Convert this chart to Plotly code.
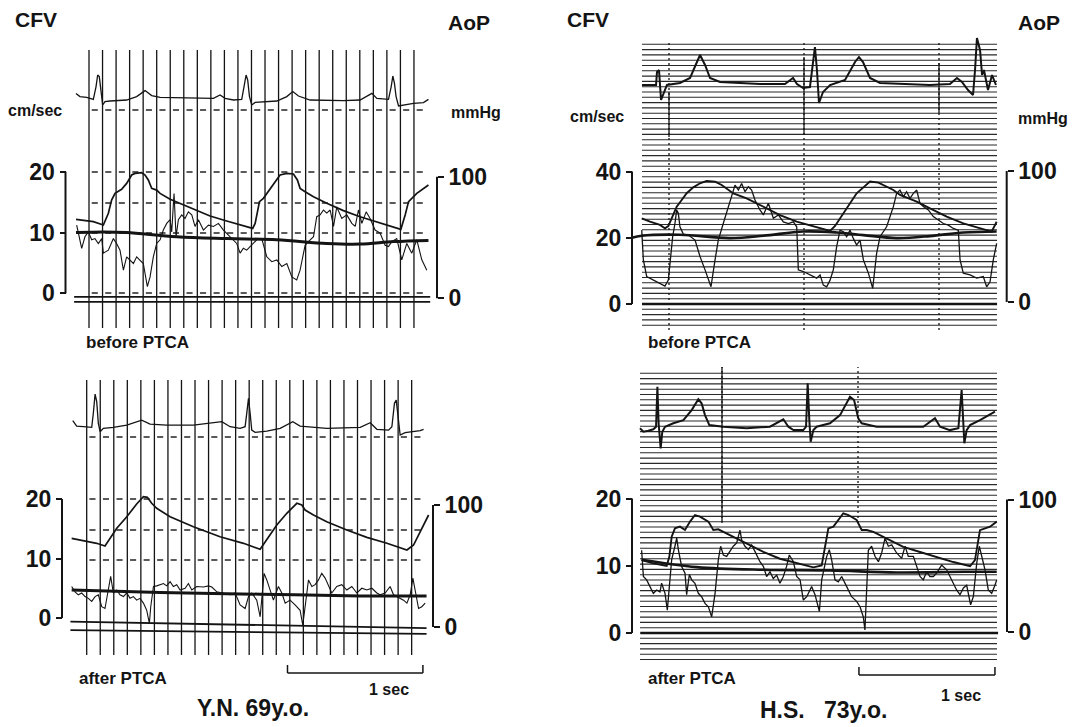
import plotly.graph_objects as go

W, H = 1075, 727
INK = '#141414'
FONT = 'Liberation Sans, Arial, Helvetica, sans-serif'

# ------------------------------------------------------------------ data
# Y.N. 69 y.o. -- before PTCA (time in s, CFV in cm/s, AoP in mmHg, ECG in mV)
TL_ECG_T = [-0.096,-0.067,-0.017,0.032,0.052,0.064,0.076,0.086,0.101,0.118,0.155,0.278,0.352,0.414,0.463,0.525,0.771,0.919,0.968,1.005,1.067,1.128,1.145,1.160,1.172,1.185,1.202,1.227,1.387,1.461,1.505,1.547,1.633,1.879,2.002,2.089,2.126,2.212,2.232,2.244,2.256,2.268,2.286,2.323,2.397,2.470,2.507]
TL_ECG_V = [0.33,0.17,0.13,0.03,0.67,1.25,1.17,0.5,-0.25,-0.08,-0.05,0.0,0.17,0.47,0.22,0.13,0.08,0.08,0.25,0.08,0.0,0.03,0.67,1.25,1.0,0.17,-0.25,-0.12,-0.05,0.17,0.42,0.2,0.0,-0.03,0.0,0.33,0.08,0.03,0.67,1.2,0.83,0.17,-0.3,-0.25,-0.17,-0.13,0.03]
TL_AOP_T = [-0.096,-0.030,0.032,0.106,0.143,0.167,0.192,0.241,0.278,0.315,0.340,0.389,0.414,0.438,0.463,0.500,0.525,0.599,0.771,0.894,1.017,1.209,1.227,1.259,1.288,1.325,1.362,1.411,1.461,1.510,1.539,1.559,1.596,1.658,1.756,1.879,2.002,2.126,2.212,2.303,2.335,2.360,2.421,2.507]
TL_AOP_V = [64.9,63.8,63.0,60.3,69.9,80.8,86.3,89.6,94.5,101.4,102.7,103.3,101.4,97.3,90.4,89.0,86.3,81.4,73.2,67.7,63.6,57.5,61.6,79.5,82.2,87.7,93.2,101.4,102.7,102.2,97.3,90.4,87.7,83.6,78.1,72.1,67.1,63.0,60.3,56.7,68.5,79.5,86.3,93.2]
TL_CFV_T = [-0.091,-0.054,-0.030,-0.005,0.020,0.044,0.069,0.094,0.106,0.143,0.180,0.204,0.229,0.241,0.254,0.278,0.303,0.328,0.352,0.377,0.401,0.431,0.451,0.475,0.500,0.525,0.549,0.574,0.599,0.611,0.628,0.643,0.660,0.685,0.709,0.734,0.759,0.783,0.808,0.845,0.882,0.919,0.956,0.993,1.042,1.067,1.091,1.116,1.140,1.165,1.202,1.239,1.276,1.313,1.350,1.387,1.424,1.461,1.498,1.534,1.559,1.596,1.621,1.658,1.682,1.707,1.732,1.756,1.781,1.806,1.830,1.867,1.904,1.941,1.966,1.990,2.015,2.047,2.076,2.113,2.150,2.187,2.212,2.236,2.273,2.310,2.347,2.384,2.421,2.458,2.495]
TL_CFV_V = [11.2,7.4,9.3,10.1,8.8,9.0,8.2,9.0,6.6,7.1,9.0,8.2,7.1,5.5,3.8,6.0,5.5,4.9,6.0,5.5,4.9,1.1,2.7,6.0,8.2,8.8,10.4,11.5,12.1,10.1,16.4,9.3,12.1,12.9,12.3,13.4,12.9,11.0,12.1,10.4,11.2,11.0,11.5,10.4,9.3,8.8,8.2,6.6,7.4,7.1,8.0,8.8,9.0,6.0,5.2,5.5,4.4,4.9,2.7,2.2,3.8,7.9,8.5,9.3,12.6,12.9,13.7,13.2,13.7,11.0,14.2,12.3,12.9,11.5,11.0,13.7,11.5,13.4,12.3,10.4,9.9,7.9,7.7,8.5,9.0,5.5,8.2,6.6,8.8,5.5,3.8]
TL_MEAN_T = [-0.096,0.106,0.278,0.648,1.017,1.387,1.756,2.002,2.249,2.507]
TL_MEAN_V = [10.0,10.1,10.0,9.3,9.0,8.8,8.2,8.1,8.5,8.7]
TL_ZERO_T = [-0.11,2.52]
TL_ZERO_CFV = [-0.6,-0.6]
TL_ZERO_AOP = [-3.0,-3.0]

# Y.N. 69 y.o. -- after PTCA
BL_ECG_T = [-0.103,-0.074,-0.025,0.037,0.049,0.062,0.074,0.086,0.099,0.123,0.197,0.296,0.406,0.468,0.591,0.788,0.998,1.059,1.133,1.170,1.182,1.195,1.207,1.219,1.244,1.330,1.429,1.522,1.576,1.773,2.020,2.094,2.143,2.229,2.254,2.273,2.286,2.298,2.315,2.352,2.414,2.463,2.488]
BL_ECG_V = [0.3,0.03,0.0,-0.03,0.67,1.63,1.25,0.17,-0.25,-0.08,-0.03,0.08,0.33,0.13,0.08,0.08,0.25,0.0,-0.08,0.0,0.67,1.42,0.67,-0.17,-0.28,-0.22,-0.08,0.25,0.03,-0.08,-0.03,0.2,-0.13,-0.17,0.0,1.17,1.33,0.67,-0.42,-0.3,-0.25,-0.2,-0.13]
BL_AOP_T = [-0.111,0.0,0.074,0.135,0.172,0.222,0.296,0.369,0.419,0.448,0.480,0.517,0.616,0.788,0.985,1.158,1.281,1.330,1.404,1.478,1.552,1.589,1.613,1.675,1.773,1.921,2.069,2.217,2.365,2.414,2.488,2.525]
BL_AOP_V = [72.7,69.9,68.6,66.4,72.7,80.9,90.4,100.8,106.8,106.3,101.4,97.3,90.4,82.2,74.0,68.6,63.7,71.3,83.6,93.2,101.4,100.0,95.9,91.8,86.3,79.5,73.5,68.6,63.1,67.2,83.6,91.8]
BL_CFV_T = [-0.111,-0.086,-0.062,-0.037,-0.012,0.012,0.037,0.062,0.086,0.111,0.135,0.160,0.177,0.197,0.222,0.246,0.271,0.296,0.320,0.345,0.369,0.394,0.419,0.443,0.463,0.473,0.493,0.517,0.542,0.567,0.591,0.616,0.640,0.665,0.690,0.727,0.751,0.776,0.813,0.862,0.899,0.924,0.961,1.010,1.059,1.096,1.133,1.170,1.195,1.219,1.256,1.281,1.293,1.310,1.330,1.355,1.379,1.416,1.441,1.466,1.502,1.539,1.576,1.596,1.626,1.638,1.663,1.687,1.712,1.736,1.761,1.786,1.810,1.847,1.884,1.921,1.958,1.995,2.032,2.069,2.106,2.143,2.167,2.204,2.241,2.266,2.340,2.365,2.389,2.409,2.426,2.451,2.475,2.500]
BL_CFV_V = [5.3,4.4,3.9,4.2,3.6,3.3,2.8,3.6,3.9,1.9,1.6,4.7,7.0,4.2,4.7,3.9,3.6,4.2,3.3,3.6,3.0,3.3,2.5,1.3,-0.9,1.9,5.3,5.4,5.6,5.8,5.4,6.1,5.3,5.6,4.7,5.0,5.8,4.7,5.3,5.2,5.4,5.2,4.4,4.2,3.9,4.2,2.2,1.6,3.6,4.2,3.0,0.2,2.8,7.5,6.4,4.7,3.0,5.3,4.2,2.5,3.0,2.2,1.3,-1.2,4.2,6.4,5.3,5.6,6.4,7.5,6.7,5.3,4.2,5.3,5.6,4.7,5.3,4.2,5.0,4.7,5.0,4.2,3.9,4.2,5.3,3.9,3.0,2.5,3.9,6.7,4.7,1.6,1.9,2.5]
BL_MEAN_T = [-0.111,0.542,1.281,2.020,2.510]
BL_MEAN_V = [4.7,4.3,4.0,3.7,3.7]
BL_ZERO_T = [-0.12,2.51]
BL_ZERO_CFV = [-0.6,-1.7]
BL_ZERO_AOP = [-2.5,-5.7]

# H.S. 73 y.o. -- before PTCA
TR_ECG_T = [-0.200,-0.141,-0.096,-0.089,-0.074,-0.059,-0.037,-0.015,0.081,0.156,0.207,0.230,0.267,0.304,0.378,0.674,0.859,0.896,0.919,0.948,0.993,1.044,1.067,1.081,1.096,1.111,1.141,1.193,1.304,1.378,1.407,1.437,1.489,1.563,1.933,2.081,2.133,2.170,2.215,2.252,2.267,2.281,2.304,2.319,2.333,2.363,2.393,2.422]
TR_ECG_V = [0,0,0,0.65,0.75,-0.75,-0.35,0,0.1,0.35,1.15,1.5,1.0,0.35,0.15,0.05,0.05,0.25,0.35,0.05,-0.15,-0.1,1.25,1.9,0.75,-0.9,-0.35,0,0.25,1.15,1.4,1.15,0.35,0.1,0,0.05,0.35,0.15,-0.25,-0.5,0.75,2.35,1.75,0.5,0.75,-0.25,0.5,0]
TR_AOP_T = [-0.202,-0.141,-0.067,-0.030,-0.005,0.020,0.057,0.094,0.131,0.180,0.230,0.279,0.341,0.390,0.427,0.477,0.575,0.699,0.822,0.946,1.069,1.193,1.230,1.291,1.341,1.390,1.440,1.489,1.551,1.612,1.662,1.711,1.835,1.933,2.057,2.180,2.304,2.390,2.427]
TR_AOP_V = [63.9,61.3,58.8,56.2,58.0,63.9,72.8,77.9,83.0,87.5,90.6,92.4,91.9,89.3,86.8,82.9,79.1,72.8,66.4,61.3,58.0,54.2,58.0,67.2,75.3,83.0,87.5,91.9,91.1,88.0,85.5,81.7,76.6,71.5,65.1,60.0,56.2,53.7,61.3]
TR_CFV_T = [-0.202,-0.190,-0.165,-0.116,-0.067,-0.030,-0.005,0.012,0.027,0.044,0.057,0.069,0.081,0.106,0.143,0.193,0.230,0.267,0.291,0.311,0.341,0.365,0.402,0.452,0.489,0.514,0.538,0.563,0.588,0.612,0.637,0.674,0.699,0.736,0.773,0.810,0.847,0.884,0.921,0.946,0.958,0.995,1.044,1.094,1.119,1.143,1.168,1.193,1.217,1.242,1.267,1.291,1.316,1.341,1.365,1.390,1.415,1.440,1.477,1.509,1.538,1.563,1.612,1.662,1.686,1.711,1.736,1.760,1.785,1.810,1.835,1.859,1.884,1.921,1.958,1.995,2.032,2.069,2.106,2.143,2.156,2.180,2.230,2.279,2.328,2.353,2.378,2.402,2.427]
TR_CFV_V = [22.3,13.3,8.3,7.2,6.2,5.4,7.2,13.3,20.3,24.3,28.4,27.4,23.3,21.1,20.8,19.3,14.3,10.3,7.8,5.2,13.3,19.3,24.3,31.4,35.9,34.4,36.4,33.9,35.4,34.4,31.4,28.4,26.9,30.4,25.9,26.9,24.8,24.3,24.8,23.3,10.3,9.8,8.8,7.8,8.8,5.7,5.2,7.2,10.3,17.3,22.3,21.8,20.3,22.3,19.8,17.8,19.3,13.3,9.3,4.7,15.3,20.3,23.3,29.4,33.4,34.4,32.4,33.9,31.9,33.4,34.4,30.4,29.4,28.4,26.4,25.4,24.3,23.8,22.8,22.3,13.3,9.3,8.8,7.8,8.3,5.2,6.7,13.3,18.3]
TR_MEAN_T = [-0.274,-0.202,0.081,0.452,0.699,0.995,1.242,1.440,1.686,1.933,2.180,2.427]
TR_MEAN_V = [20.0,20.6,20.9,19.9,20.6,21.9,21.6,20.8,19.9,20.5,21.6,21.9]
TR_ZERO_T = [-0.2,2.43]
TR_ZERO_CFV = [0.0,0.0]

# H.S. 73 y.o. -- after PTCA
BR_ECG_T = [-0.603,-0.578,-0.542,-0.505,-0.485,-0.475,-0.466,-0.451,-0.439,-0.419,-0.358,-0.284,-0.223,-0.174,-0.150,-0.125,-0.093,0.010,0.181,0.353,0.451,0.488,0.525,0.598,0.618,0.630,0.642,0.652,0.672,0.696,0.794,0.868,0.941,0.971,1.002,1.027,1.137,1.284,1.480,1.566,1.603,1.676,1.738,1.762,1.775,1.782,1.799,1.824,1.897,1.958,2.007]
BR_ECG_V = [-0.08,-0.25,-0.2,-0.13,0.0,2.0,0.17,-1.08,-0.25,0.0,0.17,0.33,0.83,1.37,1.17,0.58,0.08,0.0,-0.08,0.0,0.37,0.0,-0.17,-0.17,0.0,2.17,0.33,-0.75,-0.17,0.0,0.17,0.58,1.5,1.33,0.42,0.17,0.0,0.0,0.0,0.42,0.0,-0.17,-0.08,1.83,0.33,-0.83,-0.17,0.08,0.33,0.58,0.75]
BR_AOP_T = [-0.591,-0.505,-0.407,-0.387,-0.370,-0.346,-0.309,-0.272,-0.235,-0.199,-0.162,-0.100,-0.064,-0.027,0.010,0.059,0.181,0.304,0.426,0.549,0.672,0.733,0.757,0.782,0.819,0.855,0.892,0.929,0.990,1.027,1.064,1.113,1.211,1.333,1.456,1.578,1.701,1.824,1.860,1.897,1.934,1.971,2.020]
BR_AOP_V = [54.3,51.8,49.8,56.9,71.9,78.2,79.5,77.0,83.3,88.3,87.0,83.3,77.0,77.5,75.5,73.0,66.7,60.4,55.3,51.8,48.8,50.3,64.4,78.2,79.5,84.5,89.6,88.3,84.5,77.0,77.0,75.5,70.4,64.2,60.4,56.6,52.8,49.6,54.3,76.9,78.2,79.5,83.3]
BR_CFV_T = [-0.591,-0.578,-0.554,-0.529,-0.505,-0.480,-0.456,-0.444,-0.419,-0.402,-0.387,-0.370,-0.346,-0.333,-0.321,-0.297,-0.272,-0.260,-0.240,-0.223,-0.199,-0.174,-0.150,-0.125,-0.100,-0.076,-0.051,-0.027,-0.010,0.010,0.034,0.059,0.083,0.108,0.132,0.145,0.169,0.194,0.218,0.243,0.279,0.304,0.328,0.353,0.377,0.402,0.426,0.451,0.475,0.495,0.525,0.549,0.574,0.598,0.623,0.659,0.684,0.716,0.733,0.770,0.789,0.806,0.831,0.855,0.880,0.917,0.953,0.990,1.015,1.039,1.051,1.076,1.100,1.125,1.150,1.174,1.199,1.223,1.248,1.284,1.321,1.346,1.370,1.407,1.431,1.456,1.480,1.505,1.529,1.554,1.578,1.615,1.652,1.689,1.725,1.750,1.775,1.799,1.828,1.848,1.873,1.892,1.909,1.934,1.958,1.983,2.007,2.020]
BR_CFV_V = [12.3,8.4,7.9,6.9,5.9,6.4,6.1,7.4,5.9,3.4,6.9,10.9,12.9,14.1,12.4,9.9,8.9,5.7,8.7,7.9,7.4,5.9,5.4,4.4,3.9,2.4,5.9,10.9,12.9,11.6,11.4,12.1,12.9,13.4,15.3,13.8,12.9,12.4,13.1,12.1,10.6,9.9,8.4,9.1,8.1,8.6,7.4,8.4,9.9,11.6,10.6,8.4,7.9,4.9,5.4,6.9,5.7,3.2,7.9,11.4,12.4,10.9,7.9,7.6,8.4,6.9,5.4,4.7,3.9,2.4,0.45,12.3,12.9,11.4,10.6,11.9,14.1,12.9,13.1,11.9,11.1,12.9,11.4,11.4,9.9,8.4,7.9,9.1,8.4,8.4,8.9,10.1,9.4,7.9,6.4,5.7,6.7,7.1,4.2,5.4,10.4,12.9,11.6,9.4,6.4,5.9,7.1,7.9]
BR_MEAN_T = [-0.591,-0.186,0.304,0.794,1.284,1.775,2.020]
BR_MEAN_V = [10.9,9.8,9.4,9.3,9.0,9.1,9.1]
BR_ZERO_T = [-0.6,2.03]
BR_ZERO_CFV = [0.0,0.0]

CFV_TICKS_LEFT = [0, 10, 20]
CFV_TICKS_TR = [0, 20, 40]
AOP_TICKS = [0, 100]
TIMING_STEP = 0.1          # s between timing lines (left records)
TIMING_COUNT = 25
SCALE_LEN = 1.0            # s
BL_SCALE_START = 1.483
BR_SCALE_START = 1.007
TR_MARKS = [0.0, 1.0, 2.0]
BR_MARKS = [0.0, 1.0]

# ------------------------------------------------------------------ geometry (pixels)
PANELS = [
    dict(name='TL', x0=89.0, xs=135.4, xl=58, xr=445, yt=36, yb=336,
         cfv0=293.3, cfvk=6.08, aop0=298.3, aopk=1.216, ecg0=100.0, ecgk=20.0,
         lax=65.5, rax=437.0, cticks=CFV_TICKS_LEFT, ctop=20,
         ecg=(TL_ECG_T, TL_ECG_V), aop=(TL_AOP_T, TL_AOP_V), cfv=(TL_CFV_T, TL_CFV_V),
         mean=(TL_MEAN_T, TL_MEAN_V), zc=(TL_ZERO_T, TL_ZERO_CFV), za=(TL_ZERO_T, TL_ZERO_AOP)),
    dict(name='BL', x0=86.7, xs=135.4, xl=58, xr=445, yt=368, yb=662,
         cfv0=618.0, cfvk=5.95, aop0=627.0, aopk=1.22, ecg0=426.7, ecgk=20.0,
         lax=62.0, rax=433.0, cticks=CFV_TICKS_LEFT, ctop=20,
         ecg=(BL_ECG_T, BL_ECG_V), aop=(BL_AOP_T, BL_AOP_V), cfv=(BL_CFV_T, BL_CFV_V),
         mean=(BL_MEAN_T, BL_MEAN_V), zc=(BL_ZERO_T, BL_ZERO_CFV), za=(BL_ZERO_T, BL_ZERO_AOP)),
    dict(name='TR', x0=669.0, xs=135.0, xl=600, xr=1045, yt=30, yb=336,
         cfv0=304.0, cfvk=3.3125, aop0=302.0, aopk=1.31, ecg0=85.0, ecgk=20.0,
         lax=632.0, rax=1006.7, cticks=CFV_TICKS_TR, ctop=40,
         ecg=(TR_ECG_T, TR_ECG_V), aop=(TR_AOP_T, TR_AOP_V), cfv=(TR_CFV_T, TR_CFV_V),
         mean=(TR_MEAN_T, TR_MEAN_V), zc=(TR_ZERO_T, TR_ZERO_CFV), za=None),
    dict(name='BR', x0=722.0, xs=136.0, xl=600, xr=1045, yt=362, yb=666,
         cfv0=633.0, cfvk=6.725, aop0=632.0, aopk=1.325, ecg0=426.7, ecgk=20.0,
         lax=632.0, rax=1007.0, cticks=CFV_TICKS_LEFT, ctop=20,
         ecg=(BR_ECG_T, BR_ECG_V), aop=(BR_AOP_T, BR_AOP_V), cfv=(BR_CFV_T, BR_CFV_V),
         mean=(BR_MEAN_T, BR_MEAN_V), zc=(BR_ZERO_T, BR_ZERO_CFV), za=None),
]


def aid(letter, n):
    return letter if n == 1 else f'{letter}{n}'


def akey(letter, n):
    return f'{letter}axis' if n == 1 else f'{letter}axis{n}'


def px(x):
    return x / W


def py(y):
    return 1 - y / H


fig = go.Figure()
layout = dict(width=W, height=H, margin=dict(l=0, r=0, t=0, b=0),
              paper_bgcolor='white', plot_bgcolor='rgba(0,0,0,0)', showlegend=False)
shapes = []
annotations = []
tickfont = dict(family=FONT, size=23, color=INK, weight='bold')

for i, P in enumerate(PANELS):
    xn = i + 1
    yc, ya, ye = 3 * i + 1, 3 * i + 2, 3 * i + 3
    dom_y = [py(P['yb']), py(P['yt'])]
    layout[akey('x', xn)] = dict(domain=[px(P['xl']), px(P['xr'])],
                                 range=[(P['xl'] - P['x0']) / P['xs'], (P['xr'] - P['x0']) / P['xs']],
                                 visible=False, anchor=aid('y', yc))
    layout[akey('y', yc)] = dict(domain=dom_y,
                                 range=[(P['cfv0'] - P['yb']) / P['cfvk'], (P['cfv0'] - P['yt']) / P['cfvk']],
                                 anchor='free', position=px(P['lax']), side='left',
                                 tickvals=P['cticks'], ticks='outside', ticklen=6, tickwidth=2,
                                 tickcolor=INK, showgrid=False, zeroline=False, showline=False,
                                 tickfont=tickfont)
    layout[akey('y', ya)] = dict(overlaying=aid('y', yc),
                                 range=[(P['aop0'] - P['yb']) / P['aopk'], (P['aop0'] - P['yt']) / P['aopk']],
                                 anchor='free', position=px(P['rax']), side='right',
                                 tickvals=AOP_TICKS, ticks='outside', ticklen=6, tickwidth=2,
                                 tickcolor=INK, showgrid=False, zeroline=False, showline=False,
                                 tickfont=tickfont)
    layout[akey('y', ye)] = dict(overlaying=aid('y', yc),
                                 range=[(P['ecg0'] - P['yb']) / P['ecgk'], (P['ecg0'] - P['yt']) / P['ecgk']],
                                 visible=False)

    right = P['name'] in ('TR', 'BR')
    xr_id = aid('x', xn)

    # recorder paper: horizontal lines (right records) / timing lines (left records)
    if right:
        gx0, gx1 = (642, 997) if P['name'] == 'TR' else (640, 997)
        ytop_lim = 42 if P['name'] == 'TR' else 372
        n = -4 if P['name'] == 'TR' else -5
        while True:
            yy = P['cfv0'] - n * 5.3
            if yy < ytop_lim:
                break
            shapes.append(dict(type='line', xref='paper', yref='paper', x0=px(gx0), x1=px(gx1),
                               y0=py(yy), y1=py(yy), line=dict(color='#2a2a2a', width=1.1), layer='below'))
            n += 1
        marks = TR_MARKS if P['name'] == 'TR' else BR_MARKS
        ylo, yhi = (42, 330) if P['name'] == 'TR' else (367, 523)
        for m in marks:
            shapes.append(dict(type='line', xref=xr_id, yref='paper', x0=m, x1=m,
                               y0=py(yhi), y1=py(ylo), line=dict(color=INK, width=1.3, dash='2px,3px')))
        solids = ([(0.0, 92, 137), (1.0, 57, 135), (2.0, 63, 113)] if P['name'] == 'TR'
                  else [(0.0, 367, 522)])
        for m, a, b in solids:
            shapes.append(dict(type='line', xref=xr_id, yref='paper', x0=m, x1=m,
                               y0=py(b), y1=py(a), line=dict(color=INK, width=1.3)))
    else:
        ylo, yhi = (50, 328) if P['name'] == 'TL' else (380, 655)
        for k in range(TIMING_COUNT):
            t = k * TIMING_STEP
            shapes.append(dict(type='line', xref=xr_id, yref='paper', x0=t, x1=t,
                               y0=py(yhi), y1=py(ylo), line=dict(color=INK, width=1.3), layer='below'))
        rows = [110, 172, 203, 233, 293] if P['name'] == 'TL' else [437, 499, 530, 560]
        for r in rows:
            for k in range(TIMING_COUNT):
                t = k * TIMING_STEP
                shapes.append(dict(type='line', xref=xr_id, yref='paper', x0=t + 0.02, x1=t + 0.065,
                                   y0=py(r), y1=py(r), line=dict(color=INK, width=1.4), layer='below'))

    # brackets
    shapes.append(dict(type='line', xref='paper', yref=aid('y', yc), x0=px(P['lax']), x1=px(P['lax']),
                       y0=0, y1=P['ctop'], line=dict(color=INK, width=2)))
    shapes.append(dict(type='line', xref='paper', yref=aid('y', ya), x0=px(P['rax']), x1=px(P['rax']),
                       y0=0, y1=100, line=dict(color=INK, width=2)))

    lw = dict(ecg=1.3 if not right else 2.0, aop=1.7 if not right else 1.9,
              cfv=1.1 if not right else 1.3,
              mean=3.0 if not right else 2.6, zero=1.8 if not right else 2.4)
    # traces
    fig.add_trace(go.Scatter(x=P['ecg'][0], y=P['ecg'][1], mode='lines', xaxis=xr_id, yaxis=aid('y', ye),
                             line=dict(color=INK, width=lw['ecg']), hoverinfo='skip'))
    fig.add_trace(go.Scatter(x=P['cfv'][0], y=P['cfv'][1], mode='lines', xaxis=xr_id, yaxis=aid('y', yc),
                             line=dict(color=INK, width=lw['cfv']), hoverinfo='skip'))
    fig.add_trace(go.Scatter(x=P['aop'][0], y=P['aop'][1], mode='lines', xaxis=xr_id, yaxis=aid('y', ya),
                             line=dict(color=INK, width=lw['aop']), hoverinfo='skip'))
    fig.add_trace(go.Scatter(x=P['mean'][0], y=P['mean'][1], mode='lines', xaxis=xr_id, yaxis=aid('y', yc),
                             line=dict(color=INK, width=lw['mean'], shape='spline'), hoverinfo='skip'))
    fig.add_trace(go.Scatter(x=P['zc'][0], y=P['zc'][1], mode='lines', xaxis=xr_id, yaxis=aid('y', yc),
                             line=dict(color=INK, width=lw['zero']), hoverinfo='skip'))
    if P['za'] is not None:
        fig.add_trace(go.Scatter(x=P['za'][0], y=P['za'][1], mode='lines', xaxis=xr_id, yaxis=aid('y', ya),
                                 line=dict(color=INK, width=lw['zero']), hoverinfo='skip'))

# 1 sec scale bars
for xn, start, ybar in [(2, BL_SCALE_START, 673), (4, BR_SCALE_START, 675)]:
    xr_id = aid('x', xn)
    shapes.append(dict(type='line', xref=xr_id, yref='paper', x0=start, x1=start + SCALE_LEN,
                       y0=py(ybar), y1=py(ybar), line=dict(color=INK, width=1.5)))
    for xx in (start, start + SCALE_LEN):
        shapes.append(dict(type='line', xref=xr_id, yref='paper', x0=xx, x1=xx,
                           y0=py(ybar), y1=py(ybar - 8), line=dict(color=INK, width=1.5)))


def ann(text, x, y, size, bold=True, xanchor='left'):
    annotations.append(dict(text=text, x=px(x), y=py(y), xref='paper', yref='paper',
                            xanchor=xanchor, yanchor='middle', showarrow=False,
                            font=dict(family=FONT, size=size, color=INK,
                                      weight='bold' if bold else 'normal')))


ann('CFV', 13, 20, 21)
ann('AoP', 446, 22, 21)
ann('cm/sec', 6, 110, 16)
ann('mmHg', 449, 112, 16)
ann('before PTCA', 84, 343, 17)
ann('after PTCA', 77, 678, 17)
ann('1 sec', 367, 689, 16)
ann('Y.N. 69y.o.', 253, 708, 23, xanchor='center')

ann('CFV', 565, 20, 21)
ann('AoP', 1016, 22, 21)
ann('cm/sec', 568, 117, 16)
ann('mmHg', 1016, 118, 16)
ann('before PTCA', 646, 342, 17)
ann('after PTCA', 646, 678, 17)
ann('1 sec', 939, 695, 16)
ann('H.S.\u00a0\u00a0\u00a073y.o.', 824, 710, 23, xanchor='center')

layout['shapes'] = shapes
layout['annotations'] = annotations
fig.update_layout(**layout)
fig.write_html('out.html')
